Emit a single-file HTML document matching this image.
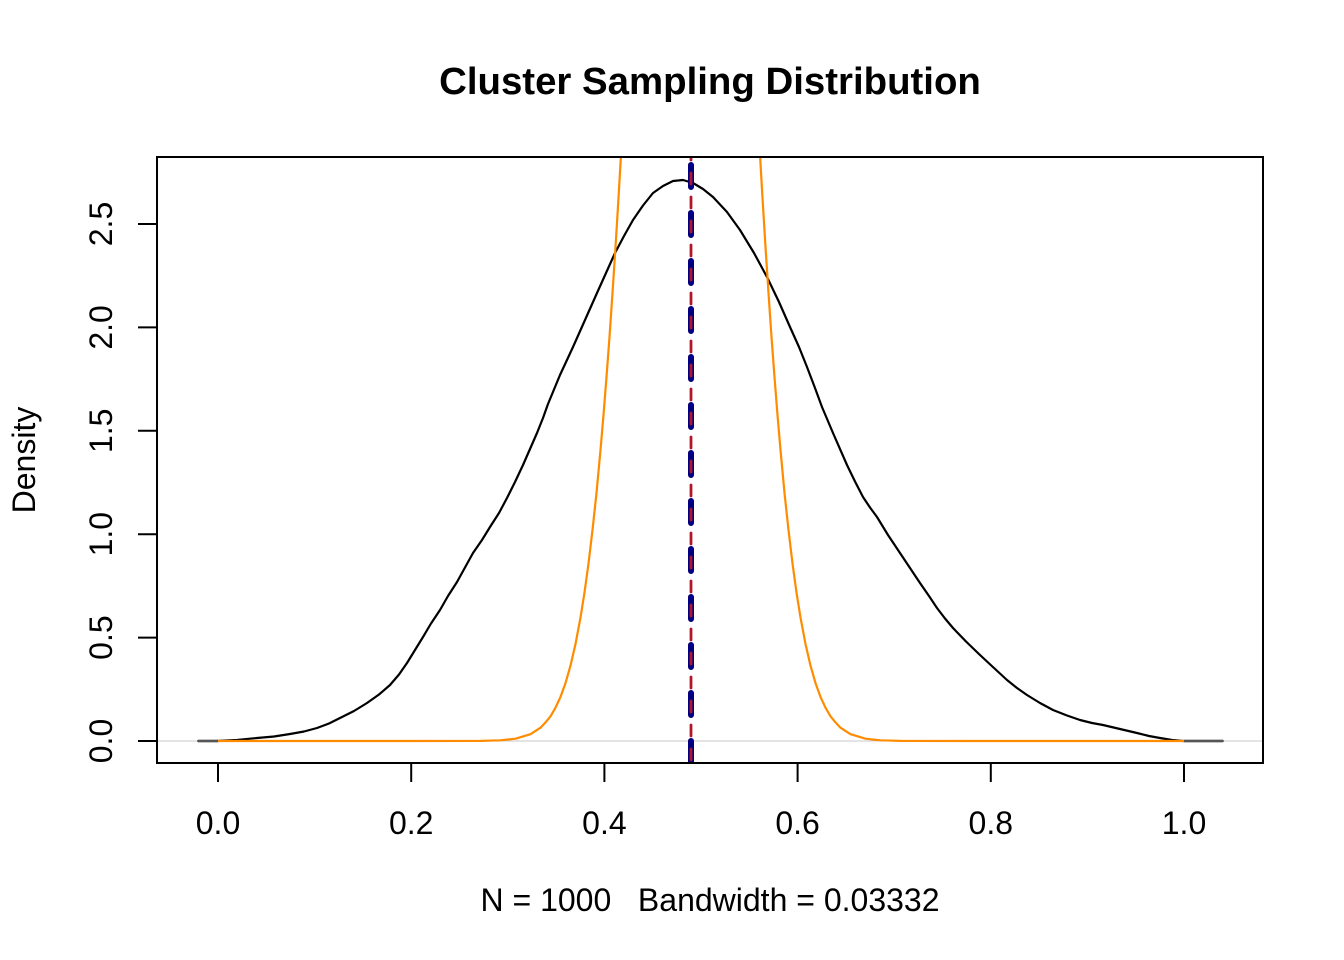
<!DOCTYPE html>
<html>
<head>
<meta charset="utf-8">
<style>
  html, body { margin: 0; padding: 0; background: #ffffff; }
  svg { display: block; }
  text { font-family: "Liberation Sans", Arial, sans-serif; fill: #000; }
</style>
</head>
<body>
<svg width="1344" height="960" viewBox="0 0 1344 960" xmlns="http://www.w3.org/2000/svg">
  <rect x="0" y="0" width="1344" height="960" fill="#ffffff"/>

  <!-- Title -->
  <text x="710" y="94" font-size="38.4" font-weight="bold" text-anchor="middle">Cluster Sampling Distribution</text>

  <defs>
    <clipPath id="plotclip">
      <rect x="157" y="157" width="1106" height="606"/>
    </clipPath>
  </defs>

  <g clip-path="url(#plotclip)">
    <!-- black density curve -->
    <polyline fill="none" stroke="#000" stroke-width="2.2" stroke-linejoin="round" stroke-linecap="round"
      points="198,741 217,741 237,740 257,738 274,736.5 290,734 304,731.5 317,728 329,723.5 340,718 354,711 367,703 379,694.5 390,685 399,674.5 407,663 415,650 423,637 431,623.5 440,610 448,596 457,582 465,567.5 473,553 482,540 490,527 499,513 507,498 515,482 523,465 530,449 537,433 543,418 548,404 560,375 573,347 585,320 597,293 606,273 615,253 624,236 633,220 643,205.5 653,193 663,186 673,181 683,180 693,183 703,189 713,197 727,212 740,230 754,253 767,277 779,302 790,327 799,347 807,367 815,388 822,407 833,433 847,465 855,481.5 863,497 870,507.5 877,517 888,535 900,553 910,568 920,583 929,596 937,608 945,618.5 953,628 966,641.5 980,655 994,668 1007,680 1017,688 1027,695 1040,703 1053,710 1067,715.5 1080,720 1092,723 1103,725 1120,729 1137,733 1149,736 1160,738 1172,740 1183,741 1223,741"/>

    <!-- zero line -->
    <line x1="157" y1="741" x2="1263" y2="741" stroke="#c8c8c8" stroke-width="1"/>

    <!-- dark-grey ends where density overlaps zero line -->
    <line x1="198" y1="741" x2="218" y2="741" stroke="#555555" stroke-width="2.4"/>
    <line x1="1184" y1="741" x2="1223" y2="741" stroke="#555555" stroke-width="2.4"/>

    <!-- orange normal curve -->
    <polyline fill="none" stroke="#FF8C00" stroke-width="2.2" stroke-linejoin="round"
      points="218,741 400,741 480.5,740.9 500.5,740.3 515.5,738.7 530.5,734.2 540.5,727.7 545.5,722.4 550.5,716.3 555.5,707.7 560.5,696.9 565.5,683.1 570.5,665.6 575.5,644 580.5,617.6 584.5,592.5 588.5,563.5 592.5,530 596.5,493 600.5,450 603.5,415 606.5,377 609.5,337 612.5,293 615.5,247 618.5,198 622.5,129"/>
    <polyline fill="none" stroke="#FF8C00" stroke-width="2.2" stroke-linejoin="round"
      points="758.5,129 762.5,198 765.5,247 768.5,293 771.5,337 774.5,377 777.5,415 780.5,450 784.5,493 788.5,530 792.5,563.5 796.5,592.5 800.5,617.6 805.5,644 810.5,665.6 815.5,683.1 820.5,696.9 825.5,707.7 830.5,716.3 835.5,722.4 840.5,727.7 850.5,734.2 865.5,738.7 880.5,740.3 900.5,740.9 980,741 1184,741"/>

    <!-- blue thick dashed vertical line -->
    <line x1="691" y1="157" x2="691" y2="763" stroke="#000080" stroke-width="6"
      stroke-linecap="round" stroke-dasharray="22 26" stroke-dashoffset="40"/>
    <!-- red dashed vertical line -->
    <line x1="691" y1="157" x2="691" y2="763" stroke="#B0172A" stroke-width="2.8"
      stroke-linecap="round" stroke-dasharray="11 13" stroke-dashoffset="8"/>
  </g>

  <!-- plot box -->
  <rect x="157" y="157" width="1106" height="606" fill="none" stroke="#000" stroke-width="2"/>

  <!-- x-axis ticks -->
  <g stroke="#000" stroke-width="2">
    <line x1="218" y1="763" x2="1184" y2="763"/>
    <line x1="218" y1="763" x2="218" y2="782"/>
    <line x1="411.2" y1="763" x2="411.2" y2="782"/>
    <line x1="604.4" y1="763" x2="604.4" y2="782"/>
    <line x1="797.6" y1="763" x2="797.6" y2="782"/>
    <line x1="990.8" y1="763" x2="990.8" y2="782"/>
    <line x1="1184" y1="763" x2="1184" y2="782"/>
  </g>
  <g font-size="32" text-anchor="middle">
    <text x="218" y="834">0.0</text>
    <text x="411.2" y="834">0.2</text>
    <text x="604.4" y="834">0.4</text>
    <text x="797.6" y="834">0.6</text>
    <text x="990.8" y="834">0.8</text>
    <text x="1184" y="834">1.0</text>
  </g>

  <!-- y-axis ticks -->
  <g stroke="#000" stroke-width="2">
    <line x1="157" y1="741" x2="157" y2="224"/>
    <line x1="138" y1="741" x2="157" y2="741"/>
    <line x1="138" y1="637.6" x2="157" y2="637.6"/>
    <line x1="138" y1="534.2" x2="157" y2="534.2"/>
    <line x1="138" y1="430.8" x2="157" y2="430.8"/>
    <line x1="138" y1="327.4" x2="157" y2="327.4"/>
    <line x1="138" y1="224" x2="157" y2="224"/>
  </g>
  <g font-size="32" text-anchor="middle">
    <text transform="translate(112,741) rotate(-90)">0.0</text>
    <text transform="translate(112,637.6) rotate(-90)">0.5</text>
    <text transform="translate(112,534.2) rotate(-90)">1.0</text>
    <text transform="translate(112,430.8) rotate(-90)">1.5</text>
    <text transform="translate(112,327.4) rotate(-90)">2.0</text>
    <text transform="translate(112,224) rotate(-90)">2.5</text>
  </g>

  <!-- axis titles -->
  <text x="710" y="911" font-size="32" text-anchor="middle" xml:space="preserve">N = 1000   Bandwidth = 0.03332</text>
  <text transform="translate(35,460) rotate(-90)" font-size="32" text-anchor="middle">Density</text>
</svg>
</body>
</html>
